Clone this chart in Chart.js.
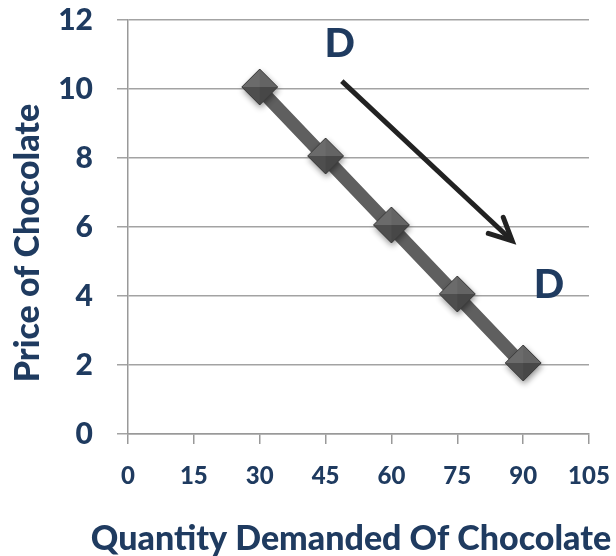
<!DOCTYPE html>
<html>
<head>
<meta charset="utf-8">
<script src="https://cdn.jsdelivr.net/npm/chart.js@4.4.1/dist/chart.umd.min.js"></script>
<style>
  html, body { margin: 0; padding: 0; background: #ffffff; }
  #wrap { width: 616px; height: 556px; }
</style>
</head>
<body>
<div id="wrap"><canvas id="demand"></canvas></div>
<script>
// Demand schedule for chocolate
const quantity = [30, 45, 60, 75, 90];
const price = [10, 8, 6, 4, 2];

// Axis ticks
const quantityTicks = [0, 15, 30, 45, 60, 75, 90, 105];
const priceTicks = [0, 2, 4, 6, 8, 10, 12];

// Annotations (data units): movement arrow and the two "D" labels
const arrowQuantity = [48.7, 87.5];
const arrowPrice = [10.23, 5.6];
const dLabelQuantity = [48.2, 95.9];
const dLabelPrice = [11.3, 4.33];
const dLabelText = ['D', 'D'];

const xTitle = 'Quantity Demanded Of Chocolate';
const yTitle = 'Price of Chocolate';

const navy = '#1f3b60';
const fontFamily = 'Lato, "Open Sans", "DejaVu Sans", sans-serif';

// Bevelled diamond marker
function makeDiamond(r) {
  const pad = 8;
  const size = 2 * (r + pad);
  const c = document.createElement('canvas');
  c.width = size; c.height = size;
  const g = c.getContext('2d');
  const cx = size / 2, cy = size / 2 - 2;
  g.save();
  g.shadowColor = 'rgba(0,0,0,0.45)';
  g.shadowBlur = 6;
  g.shadowOffsetX = 1;
  g.shadowOffsetY = 3;
  g.beginPath();
  g.moveTo(cx - r, cy); g.lineTo(cx, cy - r); g.lineTo(cx + r, cy); g.lineTo(cx, cy + r);
  g.closePath();
  g.fillStyle = '#555555';
  g.fill();
  g.restore();
  const facets = [
    [[cx - r, cy], [cx, cy - r], [cx, cy], '#6b6b6b'],
    [[cx, cy - r], [cx + r, cy], [cx, cy], '#646464'],
    [[cx + r, cy], [cx, cy + r], [cx, cy], '#474747'],
    [[cx, cy + r], [cx - r, cy], [cx, cy], '#4e4e4e']
  ];
  facets.forEach(f => {
    g.beginPath();
    g.moveTo(f[0][0], f[0][1]); g.lineTo(f[1][0], f[1][1]); g.lineTo(f[2][0], f[2][1]);
    g.closePath();
    g.fillStyle = f[3];
    g.fill();
  });
  g.beginPath();
  g.moveTo(cx - r, cy); g.lineTo(cx, cy - r); g.lineTo(cx + r, cy); g.lineTo(cx, cy + r);
  g.closePath();
  g.strokeStyle = '#3c3c3c';
  g.lineWidth = 1;
  g.stroke();
  return c;
}
const diamond = makeDiamond(18);

const annotations = {
  id: 'annotations',
  afterDatasetsDraw(chart) {
    const { ctx, scales: { x, y } } = chart;
    ctx.save();
    // arrow
    const x0 = x.getPixelForValue(arrowQuantity[0]), y0 = y.getPixelForValue(arrowPrice[0]);
    const x1 = x.getPixelForValue(arrowQuantity[1]), y1 = y.getPixelForValue(arrowPrice[1]);
    ctx.strokeStyle = '#222222';
    ctx.lineWidth = 5;
    ctx.lineCap = 'butt';
    ctx.beginPath();
    ctx.moveTo(x0, y0); ctx.lineTo(x1, y1);
    ctx.stroke();
    const back = Math.atan2(y0 - y1, x0 - x1);
    const head = 25, spread = 26 * Math.PI / 180;
    ctx.lineCap = 'round';
    ctx.lineJoin = 'miter';
    ctx.beginPath();
    ctx.moveTo(x1 + head * Math.cos(back - spread), y1 + head * Math.sin(back - spread));
    ctx.lineTo(x1, y1);
    ctx.lineTo(x1 + head * Math.cos(back + spread), y1 + head * Math.sin(back + spread));
    ctx.stroke();
    // D labels
    ctx.fillStyle = navy;
    ctx.font = '900 40px ' + fontFamily;
    ctx.textAlign = 'center';
    ctx.textBaseline = 'middle';
    dLabelText.forEach((t, i) => {
      ctx.fillText(t, x.getPixelForValue(dLabelQuantity[i]), y.getPixelForValue(dLabelPrice[i]));
    });
    ctx.restore();
  },
  afterDraw(chart) {
    const { ctx } = chart;
    ctx.save();
    ctx.fillStyle = navy;
    ctx.textAlign = 'center';
    ctx.textBaseline = 'middle';
    ctx.font = '900 34px ' + fontFamily;
    ctx.fillText(xTitle, 351, 539);
    ctx.translate(28, 243);
    ctx.rotate(-Math.PI / 2);
    ctx.font = '900 34px ' + fontFamily;
    ctx.fillText(yTitle, 0, 0);
    ctx.restore();
  }
};

new Chart(document.getElementById('demand'), {
  type: 'scatter',
  data: {
    datasets: [{
      data: quantity.map((q, i) => ({ x: q, y: price[i] })),
      showLine: true,
      borderColor: '#5f5f5f',
      borderWidth: 13,
      tension: 0,
      pointStyle: diamond,
      pointRadius: 18,
      pointHoverRadius: 18
    }]
  },
  options: {
    responsive: true,
    maintainAspectRatio: false,
    animation: false,
    events: [],
    layout: { autoPadding: false, padding: { top: 20, right: 27, left: 0, bottom: 0 } },
    plugins: { legend: { display: false }, tooltip: { enabled: false } },
    scales: {
      x: {
        type: 'linear',
        min: quantityTicks[0],
        max: quantityTicks[quantityTicks.length - 1],
        afterBuildTicks: (s) => { s.ticks = quantityTicks.map(v => ({ value: v })); },
        afterFit: (s) => { s.height = 122; s.paddingLeft = 0; s.paddingRight = 0; },
        grid: { drawOnChartArea: false, drawTicks: true, tickLength: 10, color: '#999999', lineWidth: 1.5 },
        border: { color: '#999999', width: 1.5 },
        ticks: { color: navy, font: { family: fontFamily, size: 24, weight: '900' }, padding: 18, maxRotation: 0 },
        title: { display: false }
      },
      y: {
        type: 'linear',
        min: priceTicks[0],
        max: priceTicks[priceTicks.length - 1],
        afterBuildTicks: (s) => { s.ticks = priceTicks.map(v => ({ value: v })); },
        afterFit: (s) => { s.width = 128; s.paddingTop = 0; s.paddingBottom = 0; },
        grid: { color: '#a3a3a3', lineWidth: 1.5, tickLength: 11 },
        border: { color: '#999999', width: 1.5 },
        ticks: { color: navy, font: { family: fontFamily, size: 30, weight: '900' }, padding: 24 },
        title: { display: false }
      }
    }
  },
  plugins: [annotations]
});
</script>
</body>
</html>
